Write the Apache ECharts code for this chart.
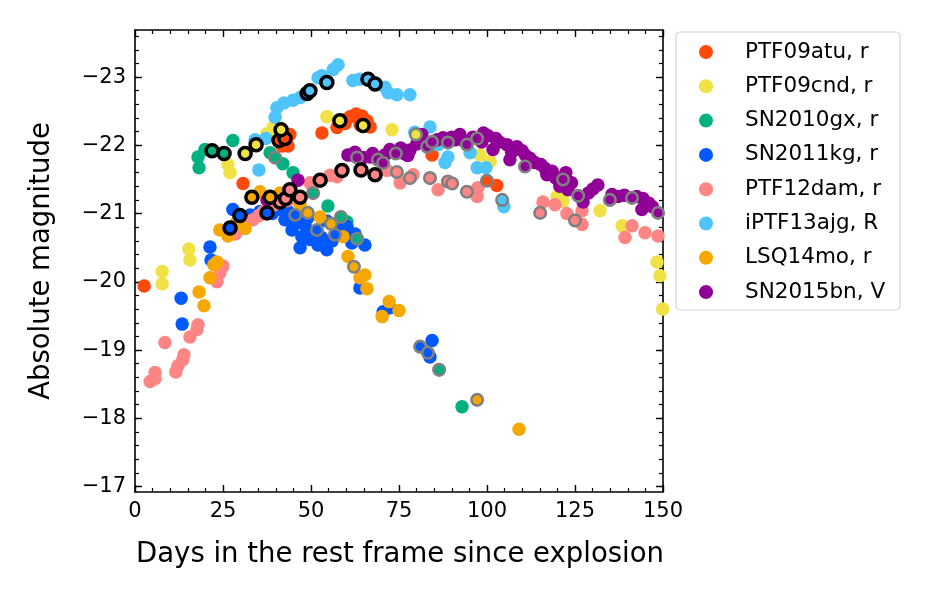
<!DOCTYPE html>
<html>
<head>
<meta charset="utf-8">
<script src="https://cdn.jsdelivr.net/npm/echarts@6/dist/echarts.min.js"></script>
<style>
html, body { margin: 0; padding: 0; background: #fff; }
#chart { width: 930px; height: 600px; }
</style>
</head>
<body>
<div id="chart"></div>
<script>
// light curves, [days since explosion, absolute mag]
var names = ['PTF09atu, r', 'PTF09cnd, r', 'SN2010gx, r', 'SN2011kg, r', 'PTF12dam, r', 'iPTF13ajg, R', 'LSQ14mo, r', 'SN2015bn, V'];
var colors = ['#FF4A0C', '#F0E244', '#00B07E', '#0058FF', '#FF8585', '#4FC4FA', '#F7A800', '#900096'];
var xTicks = [0, 25, 50, 75, 100, 125, 150];
var yTicks = [-23, -22, -21, -20, -19, -18, -17];

var ptf09atu = [[2.6, -19.94], [30.7, -21.44], [44.0, -22.16], [41.8, -21.99], [43.5, -21.99], [53.1, -22.18], [57.4, -22.26], [59.7, -22.32], [61.1, -22.42], [62.8, -22.46], [64.5, -22.43], [65.9, -22.36], [63.9, -22.30], [60.0, -22.38], [66.8, -22.27], [84.4, -21.86], [102.8, -21.41]];
var ptf09atuBlack = [[40.9, -22.07], [42.6, -22.10]];
var ptf09atuGray = [[100.0, -21.48]];

var ptf09cnd = [[7.7, -20.15], [7.7, -19.97], [15.3, -20.48], [15.6, -20.32], [26.4, -21.72], [27.0, -21.60], [37.5, -22.17], [39.2, -22.26], [54.5, -22.42], [73.0, -22.23], [98.0, -21.86], [100.9, -21.76], [119.9, -21.25], [121.6, -21.18], [132.1, -21.04], [138.4, -20.82], [148.3, -20.29], [149.1, -20.09], [149.9, -19.60]];
var ptf09cndBlack = [[31.3, -21.88], [34.4, -22.01], [41.5, -22.23], [58.2, -22.36], [64.8, -22.29]];
var ptf09cndGray = [[79.8, -22.16]];

var sn2010gx = [[17.9, -21.83], [18.2, -21.67], [19.9, -21.94], [27.8, -22.07], [38.4, -21.89], [42.0, -21.73], [44.9, -21.60], [54.8, -21.11], [60.2, -20.88], [92.9, -18.17]];
var sn2010gxBlack = [[21.9, -21.92], [25.3, -21.88]];
var sn2010gxGray = [[39.8, -21.82], [50.6, -21.30], [58.5, -20.95], [63.1, -20.63], [86.4, -18.71]];

var sn2011kg = [[13.1, -19.76], [13.4, -19.38], [21.3, -20.51], [21.6, -20.32], [27.8, -21.06], [32.7, -20.98], [35.5, -21.03], [39.0, -21.00], [41.2, -21.06], [43.5, -21.03], [45.0, -20.85], [46.3, -20.87], [47.0, -20.95], [47.4, -20.66], [46.9, -20.50], [49.1, -20.94], [50.5, -20.70], [53.0, -20.65], [54.5, -20.89], [54.5, -20.47], [56.0, -20.60], [57.5, -20.78], [58.2, -20.85], [60.2, -20.81], [61.6, -20.57], [62.5, -20.70], [65.3, -20.54], [63.9, -19.91], [70.5, -19.56], [72.4, -19.62], [84.4, -19.14], [83.8, -18.90], [42.6, -20.91], [44.6, -20.76], [48.3, -20.83], [49.7, -20.62], [52.0, -20.54]];
var sn2011kgBlack = [[27.0, -20.79], [29.8, -20.97], [37.5, -21.01]];
var sn2011kgGray = [[45.5, -20.98], [51.7, -20.76], [56.8, -20.69], [81.0, -19.05], [83.2, -18.96]];

var ptf12dam = [[4.3, -18.54], [5.7, -18.58], [5.7, -18.67], [8.5, -19.11], [11.6, -18.68], [12.2, -18.77], [13.6, -18.86], [13.9, -18.93], [15.6, -19.19], [17.6, -19.30], [17.9, -19.37], [23.3, -20.00], [24.1, -20.13], [25.0, -20.23], [28.5, -20.70], [30.0, -20.78], [31.0, -20.85], [33.5, -20.91], [35.2, -20.97], [36.5, -21.03], [38.4, -21.10], [39.5, -21.13], [43.2, -21.19], [45.5, -21.22], [49.7, -21.45], [55.4, -21.56], [57.4, -21.54], [71.6, -21.63], [75.3, -21.45], [79.0, -21.57], [86.1, -21.35], [97.2, -21.25], [97.4, -21.38], [115.9, -21.17], [119.3, -21.13], [122.7, -21.00], [127.0, -21.04], [127.0, -20.84], [139.2, -20.65], [141.2, -20.82], [144.9, -20.72], [148.6, -20.67]];
var ptf12damBlack = [[41.2, -21.17], [42.8, -21.22], [44.0, -21.35], [46.9, -21.24], [52.6, -21.49], [58.8, -21.63], [64.2, -21.64], [68.2, -21.57]];
var ptf12damGray = [[74.4, -21.61], [78.1, -21.52], [83.8, -21.52], [88.9, -21.47], [90.1, -21.44], [94.3, -21.32], [115.1, -21.01], [125.0, -20.90]];

var iptf13ajg = [[35.2, -21.64], [34.1, -22.08], [37.2, -22.10], [39.8, -22.41], [40.3, -22.55], [42.3, -22.62], [44.9, -22.66], [46.9, -22.70], [52.0, -22.99], [53.1, -23.02], [56.3, -23.11], [57.7, -23.18], [61.9, -22.95], [63.9, -22.97], [71.0, -22.85], [71.9, -22.77], [74.4, -22.74], [78.1, -22.74], [79.5, -22.19], [83.8, -22.27], [86.1, -22.01], [88.1, -21.75], [88.9, -21.83], [95.2, -21.89], [97.2, -21.67], [99.7, -21.67], [104.8, -21.10]];
var iptf13ajgBlack = [[48.9, -22.76], [49.7, -22.80], [54.5, -22.92], [66.2, -22.97], [68.2, -22.90]];
var iptf13ajgGray = [[104.3, -21.20]];

var lsq14mo = [[18.2, -19.85], [19.6, -19.65], [21.3, -20.06], [22.4, -20.25], [23.3, -20.29], [24.1, -20.76], [26.4, -20.67], [29.0, -20.88], [31.3, -20.78], [35.5, -21.32], [41.2, -21.30], [44.0, -21.32], [46.9, -21.13], [52.6, -20.95], [59.1, -20.66], [60.5, -20.37], [63.9, -20.06], [65.3, -20.10], [65.9, -19.90], [70.2, -19.49], [72.2, -19.71], [75.0, -19.58], [109.1, -17.84]];
var lsq14moBlack = [[33.2, -21.24], [38.4, -21.24]];
var lsq14moGray = [[49.1, -21.01], [55.7, -20.85], [62.2, -20.22], [97.2, -18.27]];

var sn2015bn = [[37.5, -21.20], [46.3, -21.49], [60.5, -21.86], [61.6, -21.86], [62.5, -21.90], [64.8, -21.82], [66.8, -21.83], [67.5, -21.88], [71.0, -21.86], [72.4, -21.94], [75.5, -21.96], [76.4, -21.88], [77.5, -21.85], [78.1, -21.93], [80.0, -22.02], [81.5, -22.16], [85.8, -22.08], [87.5, -22.11], [90.0, -22.12], [90.9, -22.08], [92.3, -22.16], [93.5, -22.06], [96.0, -22.12], [98.5, -22.05], [99.0, -22.18], [100.3, -22.14], [101.7, -21.94], [102.5, -22.10], [103.5, -22.05], [105.7, -22.01], [107.0, -21.90], [108.5, -21.98], [106.5, -21.79], [110.0, -21.92], [111.0, -21.85], [112.2, -21.81], [113.5, -21.75], [115.3, -21.72], [116.5, -21.66], [117.0, -21.57], [118.5, -21.62], [119.5, -21.52], [122.4, -21.60], [120.7, -21.40], [123.0, -21.35], [124.0, -21.45], [127.3, -21.17], [128.8, -21.30], [130.1, -21.36], [131.5, -21.42], [135.5, -21.28], [137.2, -21.25], [139.0, -21.27], [142.5, -21.25], [144.3, -21.22], [144.0, -21.06], [146.0, -21.15], [147.0, -21.10]];
var sn2015bnBlack = [];
var sn2015bnGray = [[63.1, -21.82], [69.0, -21.79], [70.5, -21.74], [74.1, -21.88], [83.0, -21.98], [84.4, -22.05], [88.9, -22.04], [94.3, -22.01], [97.2, -22.10], [110.8, -21.69], [121.6, -21.50], [125.9, -21.26], [134.9, -21.20], [141.2, -21.23], [148.6, -21.01]];

var plain = [ptf09atu, ptf09cnd, sn2010gx, sn2011kg, ptf12dam, iptf13ajg, lsq14mo, sn2015bn];
var blackRing = [ptf09atuBlack, ptf09cndBlack, sn2010gxBlack, sn2011kgBlack, ptf12damBlack, iptf13ajgBlack, lsq14moBlack, sn2015bnBlack];
var grayRing = [ptf09atuGray, ptf09cndGray, sn2010gxGray, sn2011kgGray, ptf12damGray, iptf13ajgGray, lsq14moGray, sn2015bnGray];

var yMin = -23.69, yMax = -16.92;
var yMinor = [];
for (var k = -236; k <= -170; k += 2) yMinor.push(k / 10);

var font = 'DejaVu Sans';
var axisColor = '#000';
var minus = function (v) { return String(v).replace('-', '\u2212'); };

var series = [];
names.forEach(function (name, i) {
    series.push({
        name: name, type: 'scatter', data: plain[i], symbolSize: 13.5, z: 2,
        itemStyle: { color: colors[i], opacity: 1 }
    });
});
names.forEach(function (name, i) {
    series.push({
        name: name + ' gray', type: 'scatter', data: grayRing[i], symbolSize: 11.5, z: 3,
        itemStyle: { color: colors[i], opacity: 1, borderColor: '#808080', borderWidth: 2.6 }
    });
    series.push({
        name: name + ' black', type: 'scatter', data: blackRing[i], symbolSize: 12, z: 4,
        itemStyle: { color: colors[i], opacity: 1, borderColor: '#000', borderWidth: 3.5 }
    });
});

function xAx(pos, showLabel) {
    return {
        type: 'value', position: pos, min: 0, max: 150, interval: 25,
        axisLine: { show: true, onZero: false, lineStyle: { color: axisColor, width: 1.6 } },
        axisTick: { inside: true, length: 7, lineStyle: { color: axisColor, width: 1.4 } },
        minorTick: { show: true, splitNumber: 5, length: 4, lineStyle: { color: axisColor, width: 1.2 } },
        axisLabel: { show: showLabel, fontFamily: font, fontSize: 21, color: '#000', margin: 9 },
        splitLine: { show: false }
    };
}
function yAx(pos, ticks, len, showLabel, showLine) {
    return {
        type: 'value', position: pos, inverse: true, min: yMin, max: yMax,
        axisLine: { show: showLine, onZero: false, lineStyle: { color: axisColor, width: 1.6 } },
        axisTick: { inside: true, length: len, customValues: ticks, lineStyle: { color: axisColor, width: len > 5 ? 1.4 : 1.2 } },
        axisLabel: { show: showLabel, customValues: ticks, formatter: minus, fontFamily: font, fontSize: 21, color: '#000', margin: 9 },
        splitLine: { show: false }
    };
}

var chart = echarts.init(document.getElementById('chart'));
chart.setOption({
    animation: false,
    backgroundColor: '#fff',
    grid: { left: 135, right: 267, top: 30, bottom: 108, containLabel: false },
    xAxis: [xAx('bottom', true), xAx('top', false)],
    yAxis: [
        yAx('left', yTicks, 7, true, true),
        yAx('left', yMinor, 4, false, false),
        yAx('right', yTicks, 7, false, true),
        yAx('right', yMinor, 4, false, false)
    ],
    legend: {
        data: names, orient: 'vertical', left: 699, top: 41,
        icon: 'circle', itemWidth: 14, itemHeight: 22, itemGap: 12.3,
        padding: 0, selectedMode: false,
        textStyle: { fontFamily: font, fontSize: 21.5, color: '#000', padding: [0, 0, 0, 27] }
    },
    graphic: [
        { type: 'rect', z: -1, shape: { x: 676, y: 32, width: 224, height: 278, r: 4 },
          style: { fill: '#fff', stroke: '#d4d4d4', lineWidth: 1.2 } },
        { type: 'text', x: 400, y: 555,
          style: { text: 'Days in the rest frame since explosion', font: '27.5px "DejaVu Sans"', fill: '#000', align: 'center', verticalAlign: 'middle' } },
        { type: 'text', x: 42, y: 261, rotation: Math.PI / 2,
          style: { text: 'Absolute magnitude', font: '27.5px "DejaVu Sans"', fill: '#000', align: 'center', verticalAlign: 'middle' } }
    ],
    series: series
});
</script>
</body>
</html>
